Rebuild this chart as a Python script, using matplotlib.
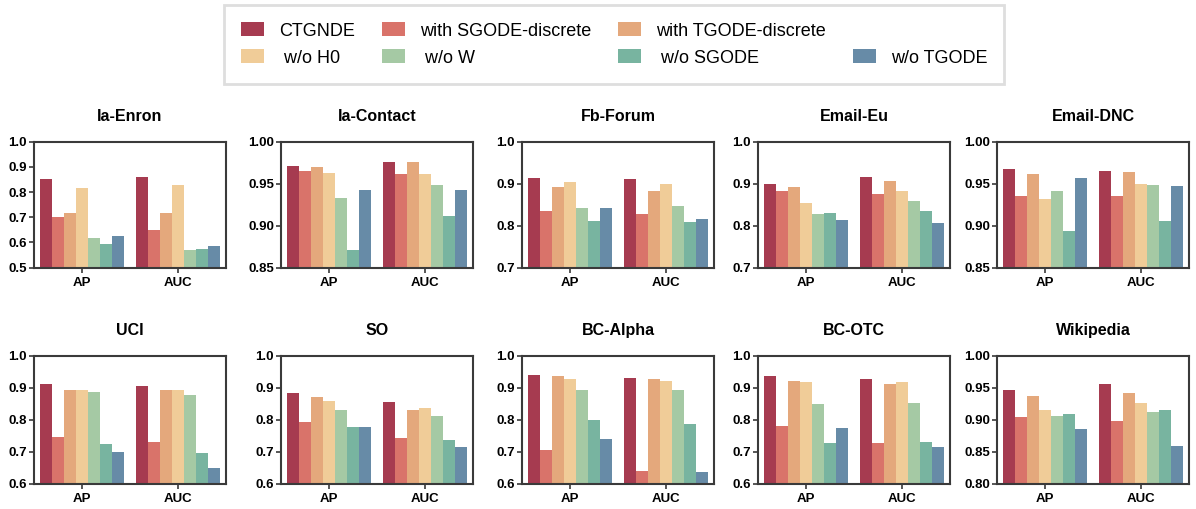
import numpy as np
import matplotlib
matplotlib.use("Agg")
import matplotlib.pyplot as plt
from matplotlib.patches import Patch
from matplotlib.ticker import FormatStrFormatter, MultipleLocator

plt.rcParams['font.family'] = ['Liberation Sans', 'DejaVu Sans']

# ---------------- data ----------------
series = ["CTGNDE", "with SGODE-discrete", "with TGODE-discrete",
          "w/o H0", "w/o W", "w/o SGODE", "w/o TGODE"]
metrics = ["AP", "AUC"]
datasets = ["Ia-Enron", "Ia-Contact", "Fb-Forum", "Email-Eu", "Email-DNC",
            "UCI", "SO", "BC-Alpha", "BC-OTC", "Wikipedia"]

ap_values = [
    [0.852, 0.701, 0.717, 0.816, 0.619, 0.594, 0.626],
    [0.9714, 0.9655, 0.970, 0.963, 0.933, 0.8707, 0.943],
    [0.914, 0.836, 0.893, 0.905, 0.843, 0.810, 0.843],
    [0.900, 0.883, 0.891, 0.855, 0.829, 0.831, 0.813],
    [0.967, 0.935, 0.961, 0.932, 0.941, 0.894, 0.9565],
    [0.911, 0.7445, 0.892, 0.892, 0.886, 0.7225, 0.700],
    [0.883, 0.792, 0.870, 0.858, 0.829, 0.776, 0.776],
    [0.939, 0.704, 0.936, 0.927, 0.892, 0.798, 0.738],
    [0.936, 0.779, 0.920, 0.917, 0.848, 0.726, 0.773],
    [0.9465, 0.904, 0.937, 0.915, 0.906, 0.909, 0.886],
]
auc_values = [
    [0.860, 0.649, 0.717, 0.828, 0.570, 0.574, 0.586],
    [0.976, 0.962, 0.976, 0.962, 0.948, 0.9115, 0.942],
    [0.912, 0.829, 0.883, 0.900, 0.846, 0.808, 0.817],
    [0.917, 0.876, 0.907, 0.883, 0.860, 0.836, 0.806],
    [0.965, 0.935, 0.9636, 0.9495, 0.948, 0.906, 0.947],
    [0.905, 0.729, 0.892, 0.892, 0.876, 0.694, 0.647],
    [0.854, 0.741, 0.829, 0.836, 0.810, 0.735, 0.713],
    [0.930, 0.638, 0.927, 0.920, 0.892, 0.785, 0.635],
    [0.927, 0.726, 0.911, 0.917, 0.851, 0.729, 0.713],
    [0.956, 0.898, 0.942, 0.926, 0.912, 0.915, 0.858],
]
y_lower = [0.5, 0.85, 0.7, 0.7, 0.85, 0.6, 0.6, 0.6, 0.6, 0.80]
y_upper = [1.0, 1.0, 1.0, 1.0, 1.0, 1.0, 1.0, 1.0, 1.0, 1.0]
y_step = [0.1, 0.05, 0.1, 0.1, 0.05, 0.1, 0.1, 0.1, 0.1, 0.05]

colors = ["#A63B50", "#D9736A", "#E4A87C", "#F0CC98",
          "#A5C9A4", "#78B4A0", "#678BA7"]

# ---------------- layout ----------------
W, H = 1196, 509
fig = plt.figure(figsize=(W / 100, H / 100), dpi=100)

col_left_px = [34, 281, 522, 758, 997]
ax_w_px = 192
row_top_px = [141.7, 355.7]
row_h_px = [126.0, 127.8]

bar_w = 0.125
x = np.arange(len(metrics))
spine_col = "#3a3a3a"

for i, name in enumerate(datasets):
    r, c = divmod(i, 5)
    left = col_left_px[c] / W
    bottom = 1 - (row_top_px[r] + row_h_px[r]) / H
    ax = fig.add_axes([left, bottom, ax_w_px / W, row_h_px[r] / H])
    vals = np.array([ap_values[i], auc_values[i]])  # metrics x series
    for s in range(len(series)):
        offs = (s - (len(series) - 1) / 2) * bar_w
        ax.bar(x + offs, vals[:, s], width=bar_w, color=colors[s],
               linewidth=0, zorder=2)
    ax.set_xlim(-0.5, 1.5)
    ax.set_ylim(y_lower[i], y_upper[i])
    ax.yaxis.set_major_locator(MultipleLocator(y_step[i]))
    fmt = "%.1f" if y_step[i] >= 0.1 else "%.2f"
    ax.yaxis.set_major_formatter(FormatStrFormatter(fmt))
    ax.set_xticks(x)
    ax.set_xticklabels(metrics)
    for lab in ax.get_xticklabels() + ax.get_yticklabels():
        lab.set_fontweight("bold")
        lab.set_fontsize(9.5)
    ax.tick_params(axis="y", length=3.5, width=1.2, pad=1.5, color=spine_col)
    ax.tick_params(axis="x", length=3.5, width=1.2, pad=3, color=spine_col)
    for sp in ax.spines.values():
        sp.set_color(spine_col)
        sp.set_linewidth(1.5)
        sp.set_zorder(3)
    ax.set_title(name, fontsize=11.5, fontweight="bold", pad=15)

# ---------------- legend ----------------
handles = [Patch(facecolor=col, edgecolor="none") for col in colors]
labels = ["CTGNDE", "with SGODE-discrete", "with TGODE-discrete",
          " w/o H0", " w/o W", " w/o SGODE", "w/o TGODE"]
blank = Patch(facecolor="none", edgecolor="none")
order_h = [handles[0], handles[3], handles[1], handles[4],
           handles[2], handles[5], blank, handles[6]]
order_l = [labels[0], labels[3], labels[1], labels[4],
           labels[2], labels[5], "", labels[6]]
leg = fig.legend(order_h, order_l, ncol=4, loc="center",
                 bbox_to_anchor=(614 / W, 1 - 44.5 / H),
                 fontsize=13, frameon=True, fancybox=False,
                 borderpad=0.95, handlelength=1.3, handleheight=0.8,
                 handletextpad=0.8, columnspacing=1.5, labelspacing=0.55)
frame = leg.get_frame()
frame.set_edgecolor("#d6d6d6")
frame.set_linewidth(2.0)

fig.savefig("out.png", dpi=100)
